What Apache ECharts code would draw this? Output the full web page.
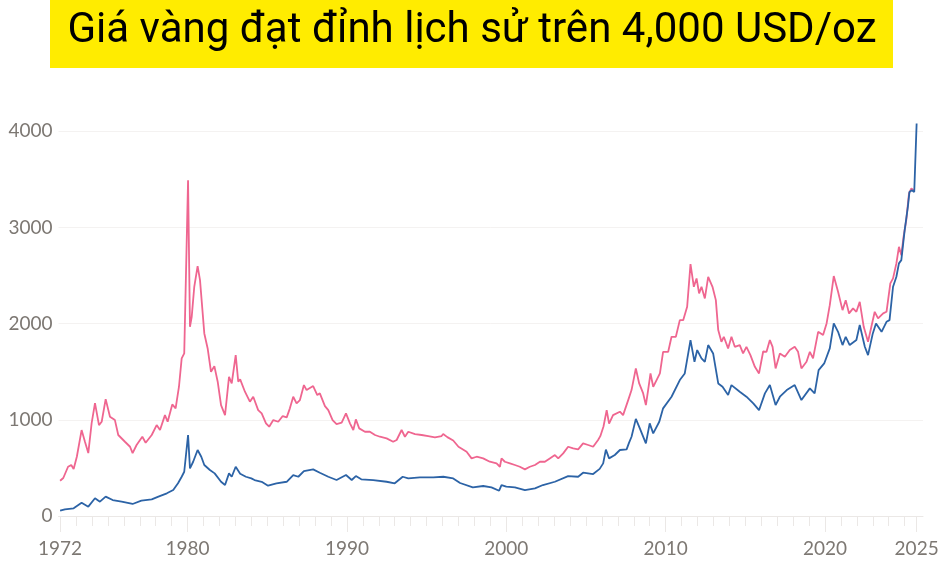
<!DOCTYPE html>
<html>
<head>
<meta charset="utf-8">
<script src="https://cdn.jsdelivr.net/npm/echarts@6/dist/echarts.min.js"></script>
<style>
html,body{margin:0;padding:0;background:#fff;}
#c{width:945px;height:579px;}
</style>
</head>
<body>
<div id="c"></div>
<script>
const titleText = 'Giá vàng đạt đỉnh lịch sử trên 4,000 USD/oz';
const yTicks = [0, 1000, 2000, 3000, 4000];
const xLabelValues = [1972, 1980, 1990, 2000, 2010, 2020, 2025.75];
const xLabelTexts = ['1972', '1980', '1990', '2000', '2010', '2020', '2025'];

// inflation-adjusted price (pink) [decimal year, USD/oz]
const realPrice = [
[1972.0,367],[1972.2,395],[1972.5,512],[1972.7,530],[1972.85,488],[1973.05,616],[1973.35,893],[1973.56,772],
[1973.77,654],[1973.98,966],[1974.19,1174],[1974.44,945],[1974.61,980],[1974.86,1215],[1975.13,1032],[1975.44,997],
[1975.65,842],[1976.07,772],[1976.39,720],[1976.55,654],[1976.8,738],[1977.16,824],[1977.37,762],[1977.75,842],
[1978.06,945],[1978.27,894],[1978.58,1049],[1978.75,980],[1979.04,1160],[1979.25,1119],[1979.46,1344],[1979.63,1638],
[1979.79,1690],[1980.03,3491],[1980.15,1967],[1980.26,2071],[1980.42,2383],[1980.5,2400],[1980.63,2597],[1980.78,2452],
[1981.05,1898],[1981.26,1742],[1981.47,1499],[1981.68,1558],[1981.89,1396],[1982.1,1153],[1982.35,1049],[1982.6,1447],
[1982.77,1378],[1983.02,1673],[1983.18,1396],[1983.3,1420],[1983.6,1292],[1983.91,1188],[1984.12,1240],[1984.43,1101],
[1984.65,1067],[1984.92,963],[1985.12,928],[1985.38,997],[1985.69,980],[1985.97,1039],[1986.22,1025],[1986.42,1119],
[1986.63,1240],[1986.84,1171],[1987.05,1205],[1987.3,1361],[1987.47,1309],[1987.88,1351],[1988.14,1257],[1988.3,1275],
[1988.62,1143],[1988.83,1101],[1989.1,997],[1989.35,956],[1989.67,970],[1989.94,1067],[1990.19,963],[1990.4,894],
[1990.56,1004],[1990.77,911],[1991.13,876],[1991.44,876],[1991.76,842],[1992.07,824],[1992.49,807],[1992.9,772],
[1993.12,790],[1993.43,894],[1993.64,824],[1993.85,876],[1994.27,852],[1994.69,842],[1995.1,831],[1995.52,817],
[1995.94,831],[1996.04,852],[1996.3,820],[1996.67,785],[1997.0,720],[1997.51,668],[1997.82,599],[1998.14,616],
[1998.55,599],[1998.97,564],[1999.39,547],[1999.6,512],[1999.7,599],[1999.91,564],[2000.23,547],[2000.54,530],
[2000.85,512],[2001.17,485],[2001.48,512],[2001.8,530],[2002.11,564],[2002.42,564],[2002.73,599],[2003.05,634],
[2003.26,599],[2003.57,651],[2003.88,720],[2004.2,703],[2004.51,693],[2004.82,755],[2005.14,738],[2005.45,720],
[2005.76,790],[2005.9,830],[2006.1,930],[2006.3,1100],[2006.45,960],[2006.7,1049],[2007.13,1084],[2007.33,1049],
[2007.65,1205],[2007.86,1309],[2008.13,1534],[2008.34,1378],[2008.59,1274],[2008.76,1153],[2008.9,1309],[2009.05,1482],
[2009.22,1344],[2009.43,1413],[2009.64,1482],[2009.84,1707],[2010.16,1707],[2010.37,1863],[2010.64,1863],[2010.89,2036],
[2011.1,2036],[2011.35,2175],[2011.56,2618],[2011.77,2383],[2011.94,2470],[2012.1,2314],[2012.25,2383],[2012.46,2262],
[2012.67,2487],[2012.94,2383],[2013.15,2244],[2013.3,1933],[2013.5,1811],[2013.65,1863],[2013.92,1742],[2014.13,1863],
[2014.34,1759],[2014.65,1777],[2014.86,1690],[2015.07,1759],[2015.32,1673],[2015.6,1551],[2015.86,1482],[2016.12,1710],
[2016.33,1707],[2016.54,1829],[2016.71,1759],[2016.9,1534],[2017.17,1690],[2017.48,1655],[2017.79,1725],[2018.1,1759],
[2018.31,1707],[2018.52,1534],[2018.84,1603],[2019.05,1707],[2019.25,1638],[2019.57,1915],[2019.88,1881],[2020.1,2002],
[2020.3,2192],[2020.55,2494],[2020.82,2331],[2021.1,2140],[2021.3,2244],[2021.51,2106],[2021.76,2158],[2021.97,2123],
[2022.18,2227],[2022.43,1967],[2022.7,1811],[2022.91,1967],[2023.12,2123],[2023.33,2054],[2023.65,2106],[2023.86,2123],
[2024.1,2418],[2024.27,2470],[2024.48,2626],[2024.64,2798],[2024.79,2712],[2024.93,2902],[2025.1,3075],[2025.27,3353],
[2025.42,3405],[2025.57,3387]
];

// nominal price (blue) [decimal year, USD/oz]
const nominalPrice = [
[1972.0,55],[1972.3,69],[1972.85,80],[1973.35,138],[1973.77,97],[1974.19,184],[1974.5,149],[1974.86,201],
[1975.3,166],[1975.86,149],[1976.55,125],[1977.1,159],[1977.75,173],[1978.17,201],[1978.7,236],[1979.1,270],
[1979.4,340],[1979.63,408],[1979.79,460],[1980.03,842],[1980.15,495],[1980.35,564],[1980.63,686],[1980.86,616],
[1981.05,530],[1981.4,478],[1981.7,443],[1982.1,356],[1982.35,322],[1982.6,443],[1982.77,408],[1983.02,512],
[1983.3,440],[1983.66,408],[1984.0,391],[1984.2,374],[1984.65,356],[1985.05,315],[1985.58,340],[1986.22,356],
[1986.63,426],[1986.95,408],[1987.3,467],[1987.88,485],[1988.3,450],[1988.83,408],[1989.35,374],[1989.94,426],
[1990.3,374],[1990.56,415],[1990.9,381],[1991.65,374],[1992.49,356],[1993.0,340],[1993.5,408],[1993.85,391],
[1994.58,402],[1995.42,402],[1996.05,408],[1996.67,391],[1997.1,343],[1997.9,298],[1998.55,312],[1999.07,298],
[1999.55,263],[1999.7,322],[2000.0,305],[2000.54,298],[2001.17,270],[2001.8,288],[2002.3,322],[2003.05,356],
[2003.88,415],[2004.51,408],[2004.82,450],[2005.45,436],[2005.86,490],[2006.08,547],[2006.25,690],[2006.45,599],
[2006.81,634],[2007.13,686],[2007.55,693],[2007.7,760],[2007.86,824],[2008.13,1010],[2008.38,911],[2008.76,755],
[2009.0,963],[2009.22,859],[2009.6,980],[2009.84,1119],[2010.37,1240],[2010.89,1413],[2011.2,1482],[2011.56,1829],
[2011.81,1603],[2011.98,1725],[2012.25,1638],[2012.46,1603],[2012.67,1777],[2012.98,1690],[2013.3,1378],[2013.57,1344],
[2013.92,1257],[2014.13,1361],[2014.65,1292],[2015.07,1240],[2015.5,1171],[2015.86,1100],[2016.23,1275],[2016.54,1361],
[2016.9,1153],[2017.17,1240],[2017.6,1309],[2018.1,1361],[2018.52,1205],[2019.05,1327],[2019.35,1275],[2019.6,1517],
[2019.95,1586],[2020.3,1742],[2020.55,2002],[2020.82,1915],[2021.1,1777],[2021.3,1863],[2021.55,1777],[2021.97,1829],
[2022.18,1985],[2022.5,1759],[2022.7,1673],[2023.0,1898],[2023.2,2002],[2023.55,1915],[2023.86,2019],[2024.05,2036],
[2024.27,2383],[2024.48,2487],[2024.64,2626],[2024.79,2660],[2025.0,2972],[2025.2,3214],[2025.3,3369],[2025.45,3387],
[2025.6,3369],[2025.75,4080]
];

const yearTicks = [];
for (let y = 1972; y <= 2025; y++) yearTicks.push(y);
yearTicks.push(2025.75);

const chart = echarts.init(document.getElementById('c'), null, {renderer: 'canvas'});

// measure title so it spans the same width as in the reference
const mc = document.createElement('canvas').getContext('2d');
const titleFont = '42px Roboto';
mc.font = titleFont;
const titleW = mc.measureText(titleText).width;
const titleScale = 809 / titleW;

const axisGrey = '#ebe8e6';
const labelColor = '#7d7873';
const labelFont = 'Lato';

chart.setOption({
  animation: false,
  backgroundColor: '#ffffff',
  graphic: [
    {type: 'rect', shape: {x: 50, y: 0, width: 843, height: 68}, style: {fill: '#ffec00'}, z: 10},
    {type: 'text', x: 472, y: 31, scaleX: titleScale, z: 11,
     style: {text: titleText, font: titleFont, fill: '#000', align: 'center', verticalAlign: 'middle'}}
  ],
  grid: {left: 58.5, right: 22, top: 112, bottom: 63, containLabel: false},
  xAxis: [
    {
      type: 'value', min: 1971.9, max: 2026.15, gridIndex: 0,
      axisLine: {show: true, lineStyle: {color: axisGrey, width: 1}},
      axisTick: {show: true, customValues: yearTicks, length: 10, lineStyle: {color: axisGrey, width: 1}},
      axisLabel: {
        show: true, customValues: xLabelValues, margin: 23,
        color: labelColor, fontFamily: labelFont, fontSize: 19,
        formatter: function (v) { const i = xLabelValues.indexOf(v); return i >= 0 ? xLabelTexts[i] : ''; }
      },
      splitLine: {show: false}
    },
    {
      type: 'value', min: 1971.9, max: 2026.15, gridIndex: 0, position: 'bottom',
      axisLine: {show: false},
      axisTick: {show: true, customValues: xLabelValues, length: 16, lineStyle: {color: axisGrey, width: 1}},
      axisLabel: {show: false},
      splitLine: {show: false}
    }
  ],
  yAxis: {
    type: 'value', min: 0, max: 4200, interval: 1000,
    axisLine: {show: false}, axisTick: {show: false},
    axisLabel: {color: labelColor, fontFamily: labelFont, fontSize: 19, margin: 6, showMaxLabel: false,
      formatter: function (v) { return yTicks.indexOf(v) >= 0 ? String(v) : ''; }},
    splitLine: {show: true, showMaxLine: false, showMinLine: false, lineStyle: {color: '#f4f2f1', width: 1}}
  },
  series: [
    {type: 'line', name: 'real', data: realPrice, showSymbol: false, symbol: 'none',
     lineStyle: {color: '#ef6690', width: 1.8}, z: 2},
    {type: 'line', name: 'nominal', data: nominalPrice, showSymbol: false, symbol: 'none',
     lineStyle: {color: '#2c63a6', width: 1.8}, z: 3}
  ]
});
</script>
</body>
</html>
